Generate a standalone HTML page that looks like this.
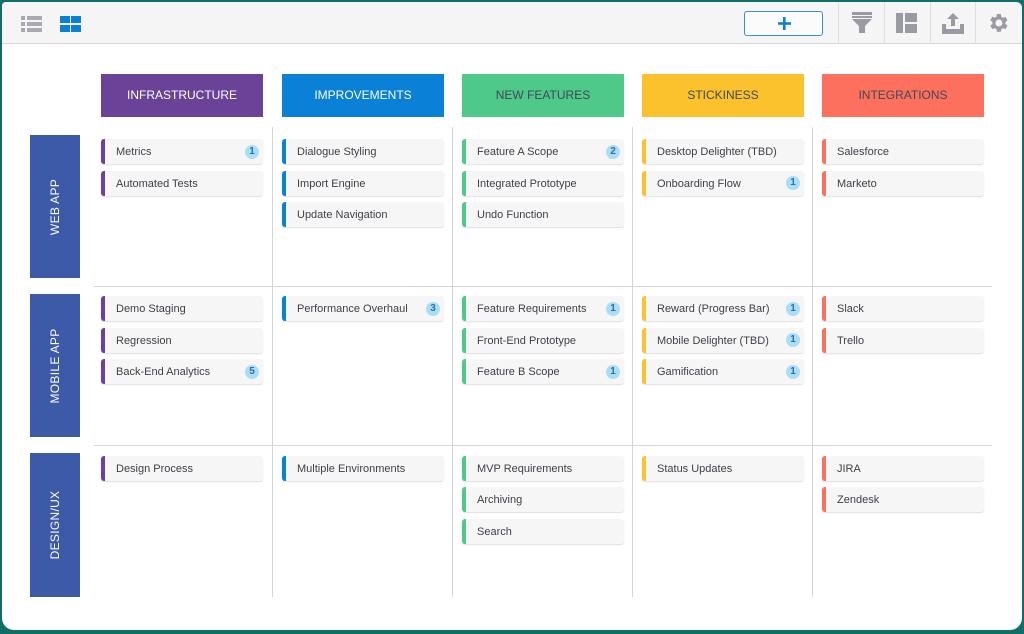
<!DOCTYPE html>
<html><head><meta charset="utf-8">
<style>
*{margin:0;padding:0;box-sizing:border-box}
html,body{width:1024px;height:634px;overflow:hidden;background:#0e6f67}
#panel{position:absolute;left:2px;top:2px;width:1020px;height:628px;background:#fff;border-radius:4px 6px 12px 12px;overflow:hidden;font-family:"Liberation Sans",sans-serif}
#tb{position:absolute;left:0;top:0;width:1020px;height:42px;background:#f5f5f6;border-bottom:1px solid #d6d6da}
.sep{position:absolute;top:0;width:1px;height:42px;background:#dedee2}
.h{position:absolute;top:72px;width:162px;height:43px;font-size:12px;line-height:43px;text-align:center}
.r{position:absolute;left:28px;width:50px;background:#3d5aa9}
.r span{position:absolute;left:50%;top:50%;transform:translate(-50%,-50%) rotate(-90deg);color:#fff;font-size:12px;white-space:nowrap;letter-spacing:0.3px}
.vl{position:absolute;top:125px;width:1px;height:470px;background:#d3d3dc}
.hl{position:absolute;left:92px;width:898px;height:1px;background:#d3d3dc}
.c{position:absolute;width:162px;height:25px;background:#f6f6f7;border-radius:3px;box-shadow:0 1px 1px rgba(0,0,0,.13);font-size:11px;color:#3e3f47;line-height:26px;padding-left:15px;white-space:nowrap}
.c i{position:absolute;left:0;top:0;bottom:0;width:4px;border-radius:3px 0 0 3px}
.c b{position:absolute;right:4px;top:5.5px;width:14px;height:14px;border-radius:50%;background:#aadef6;color:#2a72a6;font-size:10px;line-height:14px;text-align:center;font-weight:bold}
.P{background:#6a4399}.B{background:#0a80d6}.G{background:#4fc98a}.Y{background:#fbc22d}.C{background:#fd705d}
</style></head><body>
<div id="panel">
 <div id="tb">
  <svg style="position:absolute;left:19px;top:14px" width="22" height="16">
   <g fill="#a9a9b2">
    <rect x="0" y="0" width="4" height="4"/><rect x="6" y="0" width="15" height="4"/>
    <rect x="0" y="6" width="4" height="4"/><rect x="6" y="6" width="15" height="4"/>
    <rect x="0" y="12" width="4" height="4"/><rect x="6" y="12" width="15" height="4"/>
   </g>
  </svg>
  <svg style="position:absolute;left:58px;top:14px" width="22" height="16">
   <g fill="#0a80d6">
    <rect x="0" y="0" width="10" height="7"/><rect x="11" y="0" width="10" height="7"/>
    <rect x="0" y="9" width="10" height="7"/><rect x="11" y="9" width="10" height="7"/>
   </g>
  </svg>
  <div style="position:absolute;left:742px;top:9px;width:79px;height:25px;border:1px solid #3590dc;border-radius:3px;background:#fbfbfc"></div>
  <svg style="position:absolute;left:776px;top:15px" width="13" height="13"><rect x="5" y="0" width="2.6" height="13" fill="#0a80d6"/><rect x="0" y="5.2" width="13" height="2.6" fill="#0a80d6"/></svg>
  <div class="sep" style="left:836px"></div>
  <div class="sep" style="left:882px"></div>
  <div class="sep" style="left:928px"></div>
  <div class="sep" style="left:973px"></div>
  <svg style="position:absolute;left:850px;top:10px" width="21" height="22">
   <g fill="#9a9aa3"><rect x="0" y="0" width="20" height="3"/><rect x="0" y="4" width="20" height="2"/><polygon points="0,7 20,7 13,14 13,21 7,21 7,14"/></g>
  </svg>
  <svg style="position:absolute;left:894px;top:11px" width="22" height="21">
   <g fill="#9a9aa3"><rect x="0" y="0" width="7" height="20"/><rect x="9" y="0" width="12" height="9"/><rect x="9" y="11" width="12" height="9"/></g>
  </svg>
  <svg style="position:absolute;left:940px;top:11px" width="22" height="21">
   <g fill="#9a9aa3"><polygon points="11,0 17,6 13,6 13,13 9,13 9,6 5,6"/><polygon points="0,11 4,11 4,16 18,16 18,11 22,11 22,21 0,21"/></g>
  </svg>
  <svg style="position:absolute;left:985px;top:9px" width="24" height="24" viewBox="0 0 24 24">
   <path fill="#9a9aa3" d="M19.4 13a7.6 7.6 0 0 0 0-2l2.1-1.6-2-3.5-2.5 1a7.5 7.5 0 0 0-1.7-1L14.9 3h-4l-.4 2.6a7.5 7.5 0 0 0-1.7 1l-2.5-1-2 3.5L6.4 11a7.6 7.6 0 0 0 0 2l-2.1 1.6 2 3.5 2.5-1a7.5 7.5 0 0 0 1.7 1l.4 2.6h4l.4-2.6a7.5 7.5 0 0 0 1.7-1l2.5 1 2-3.5zM12.9 15.5a3.5 3.5 0 1 1 0-7 3.5 3.5 0 0 1 0 7z" transform="translate(-1,0)"/>
  </svg>
 </div>

 <div class="h P" style="left:99px;color:#fff">INFRASTRUCTURE</div>
 <div class="h B" style="left:280px;color:#fff">IMPROVEMENTS</div>
 <div class="h G" style="left:460px;color:#3f4a52">NEW FEATURES</div>
 <div class="h Y" style="left:640px;color:#3f4a52">STICKINESS</div>
 <div class="h C" style="left:820px;color:#3f4a52">INTEGRATIONS</div>

 <div class="r" style="top:133px;height:143px"><span>WEB APP</span></div>
 <div class="r" style="top:292px;height:143px"><span>MOBILE APP</span></div>
 <div class="r" style="top:451px;height:144px"><span>DESIGN/UX</span></div>

 <div class="vl" style="left:270px"></div>
 <div class="vl" style="left:450px"></div>
 <div class="vl" style="left:630px"></div>
 <div class="vl" style="left:810px"></div>
 <div class="hl" style="top:284px"></div>
 <div class="hl" style="top:443px"></div>

 <div class="c" style="left:99px;top:137px"><i class="P"></i>Metrics<b>1</b></div>
 <div class="c" style="left:99px;top:168.5px"><i class="P"></i>Automated Tests</div>
 <div class="c" style="left:99px;top:294px"><i class="P"></i>Demo Staging</div>
 <div class="c" style="left:99px;top:325.5px"><i class="P"></i>Regression</div>
 <div class="c" style="left:99px;top:357px"><i class="P"></i>Back-End Analytics<b>5</b></div>
 <div class="c" style="left:99px;top:453.5px"><i class="P"></i>Design Process</div>

 <div class="c" style="left:280px;top:137px"><i class="B"></i>Dialogue Styling</div>
 <div class="c" style="left:280px;top:168.5px"><i class="B"></i>Import Engine</div>
 <div class="c" style="left:280px;top:200px"><i class="B"></i>Update Navigation</div>
 <div class="c" style="left:280px;top:294px"><i class="B"></i>Performance Overhaul<b>3</b></div>
 <div class="c" style="left:280px;top:453.5px"><i class="B"></i>Multiple Environments</div>

 <div class="c" style="left:460px;top:137px"><i class="G"></i>Feature A Scope<b>2</b></div>
 <div class="c" style="left:460px;top:168.5px"><i class="G"></i>Integrated Prototype</div>
 <div class="c" style="left:460px;top:200px"><i class="G"></i>Undo Function</div>
 <div class="c" style="left:460px;top:294px"><i class="G"></i>Feature Requirements<b>1</b></div>
 <div class="c" style="left:460px;top:325.5px"><i class="G"></i>Front-End Prototype</div>
 <div class="c" style="left:460px;top:357px"><i class="G"></i>Feature B Scope<b>1</b></div>
 <div class="c" style="left:460px;top:453.5px"><i class="G"></i>MVP Requirements</div>
 <div class="c" style="left:460px;top:485px"><i class="G"></i>Archiving</div>
 <div class="c" style="left:460px;top:516.5px"><i class="G"></i>Search</div>

 <div class="c" style="left:640px;top:137px"><i class="Y"></i>Desktop Delighter (TBD)</div>
 <div class="c" style="left:640px;top:168.5px"><i class="Y"></i>Onboarding Flow<b>1</b></div>
 <div class="c" style="left:640px;top:294px"><i class="Y"></i>Reward (Progress Bar)<b>1</b></div>
 <div class="c" style="left:640px;top:325.5px"><i class="Y"></i>Mobile Delighter (TBD)<b>1</b></div>
 <div class="c" style="left:640px;top:357px"><i class="Y"></i>Gamification<b>1</b></div>
 <div class="c" style="left:640px;top:453.5px"><i class="Y"></i>Status Updates</div>

 <div class="c" style="left:820px;top:137px"><i class="C"></i>Salesforce</div>
 <div class="c" style="left:820px;top:168.5px"><i class="C"></i>Marketo</div>
 <div class="c" style="left:820px;top:294px"><i class="C"></i>Slack</div>
 <div class="c" style="left:820px;top:325.5px"><i class="C"></i>Trello</div>
 <div class="c" style="left:820px;top:453.5px"><i class="C"></i>JIRA</div>
 <div class="c" style="left:820px;top:485px"><i class="C"></i>Zendesk</div>
</div>
</body></html>
